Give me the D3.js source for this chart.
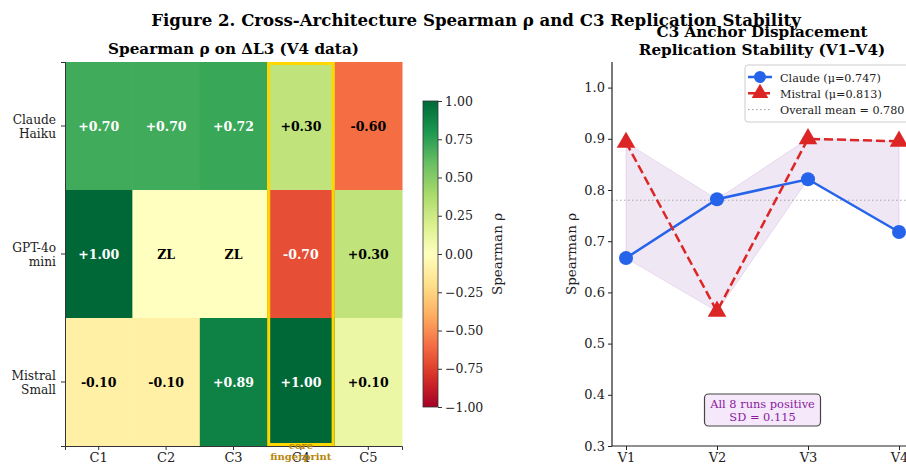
<!DOCTYPE html>
<html>
<head>
<meta charset="utf-8">
<script src="https://cdn.jsdelivr.net/npm/d3@7"></script>
<style>
  body { margin: 0; background: #fff; }
  svg { font-family: "DejaVu Serif", serif; }
</style>
</head>
<body>
<svg id="fig" width="906" height="465"></svg>
<script>
// heatmap data
const conditions = ["C1", "C2", "C3", "C4", "C5"];
const models = [["Claude", "Haiku"], ["GPT-4o", "mini"], ["Mistral", "Small"]];
const rhoClaude = [0.70, 0.70, 0.72, 0.30, -0.60];
const rhoGpt = [1.00, null, null, -0.70, 0.30];   // null = ZL (zero-length)
const rhoMistral = [-0.10, -0.10, 0.89, 1.00, 0.10];
const cbarTicks = [1.00, 0.75, 0.50, 0.25, 0.00, -0.25, -0.50, -0.75, -1.00];

// replication data
const versions = ["V1", "V2", "V3", "V4"];
const claudeRuns = [0.667, 0.782, 0.821, 0.718];
const mistralRuns = [0.893, 0.563, 0.900, 0.895];
const overallMean = 0.780;
const yTicks = [0.3, 0.4, 0.5, 0.6, 0.7, 0.8, 0.9, 1.0];

const svg = d3.select("#fig");
// RdYlGn as matplotlib builds it (linear between the 11 anchor colours)
const rdylgn = ["#a50026", "#d73027", "#f46d43", "#fdae61", "#fee08b", "#ffffbf",
  "#d9ef8b", "#a6d96a", "#66bd63", "#1a9850", "#006837"];
const color = d3.scaleLinear().domain(d3.range(11).map(i => -1 + i * 0.2)).range(rdylgn)
  .interpolate(d3.interpolateRgb).clamp(true);
const fmt = v => (v > 0 ? "+" : "") + v.toFixed(2);

// titles
svg.append("text").attr("x", 476).attr("y", 26).attr("text-anchor", "middle")
  .style("font-size", "16.6px").style("font-weight", "bold")
  .text("Figure 2. Cross-Architecture Spearman ρ and C3 Replication Stability");

// ---------- left: heatmap ----------
const hm = { left: 65, top: 62, right: 402, bottom: 446 };
const x = d3.scaleBand().domain(conditions).range([hm.left, hm.right]);
const y = d3.scaleBand().domain(d3.range(models.length)).range([hm.top, hm.bottom]);

svg.append("text").attr("x", (hm.left + hm.right) / 2).attr("y", 54).attr("text-anchor", "middle")
  .style("font-size", "15.2px").style("font-weight", "bold")
  .text("Spearman ρ on ΔL3 (V4 data)");

const rows = [rhoClaude, rhoGpt, rhoMistral];
const cells = [];
rows.forEach((r, i) => r.forEach((v, j) => cells.push({ row: i, col: conditions[j], v })));

svg.append("g").selectAll("rect").data(cells).enter().append("rect")
  .attr("x", d => x(d.col)).attr("y", d => y(d.row))
  .attr("width", x.bandwidth() + 0.5).attr("height", y.bandwidth() + 0.5)
  .attr("fill", d => color(d.v === null ? 0 : d.v));

svg.append("g").selectAll("text").data(cells).enter().append("text")
  .attr("x", d => x(d.col) + x.bandwidth() / 2)
  .attr("y", d => y(d.row) + y.bandwidth() / 2 + 4.5)
  .attr("text-anchor", "middle")
  .style("font-size", "12.5px").style("font-weight", "bold")
  .attr("fill", d => d.v !== null && Math.abs(d.v) > 0.65 ? "#fff" : "#000")
  .text(d => d.v === null ? "ZL" : fmt(d.v));

// highlight core fingerprint column
svg.append("rect")
  .attr("x", x("C4") + 1.5).attr("y", hm.top + 1.5)
  .attr("width", x.bandwidth() - 3).attr("height", hm.bottom - hm.top - 3)
  .attr("fill", "none").attr("stroke", "#FFD700").attr("stroke-width", 3);

// axes
const xAxis = svg.append("g").attr("transform", `translate(0,${hm.bottom})`)
  .call(d3.axisBottom(x).tickSize(4).tickPadding(3));
const yAxis = svg.append("g").attr("transform", `translate(${hm.left},0)`)
  .call(d3.axisLeft(y).tickSize(4).tickFormat(""));
[xAxis, yAxis].forEach(a => {
  a.select(".domain").attr("stroke", "#333").attr("stroke-width", 1);
  a.selectAll(".tick line").attr("stroke", "#333");
  a.selectAll("text").style("font-family", "DejaVu Serif").style("font-size", "13px").attr("fill", "#222");
});
models.forEach((m, i) => {
  const t = svg.append("text").attr("text-anchor", "end")
    .attr("x", 56).attr("y", y(i) + y.bandwidth() / 2 - 2)
    .style("font-size", "12.2px").attr("fill", "#222");
  t.append("tspan").attr("x", 56).attr("dy", 0).text(m[0]);
  t.append("tspan").attr("x", 56).attr("dy", 13.5).text(m[1]);
});

svg.append("text").attr("x", x("C4") + x.bandwidth() / 2).attr("y", 449)
  .attr("text-anchor", "middle").style("font-size", "10px").style("font-weight", "bold")
  .attr("fill", "#B8860B").text("core");
svg.append("text").attr("x", x("C4") + x.bandwidth() / 2).attr("y", 460)
  .attr("text-anchor", "middle").style("font-size", "10px").style("font-weight", "bold")
  .attr("fill", "#B8860B").text("fingerprint");

// colorbar
const cb = { x: 423, w: 15, top: 101, bottom: 407 };
const cbScale = d3.scaleLinear().domain([-1, 1]).range([cb.bottom, cb.top]);
const defs = svg.append("defs");
const grad = defs.append("linearGradient").attr("id", "cbgrad")
  .attr("x1", 0).attr("y1", 1).attr("x2", 0).attr("y2", 0);
d3.range(0, 1.0001, 0.05).forEach(t => {
  grad.append("stop").attr("offset", t).attr("stop-color", color(-1 + 2 * t));
});
svg.append("rect").attr("x", cb.x).attr("y", cb.top).attr("width", cb.w)
  .attr("height", cb.bottom - cb.top).attr("fill", "url(#cbgrad)")
  .attr("stroke", "#333").attr("stroke-width", 0.8);
const cbAxis = svg.append("g").attr("transform", `translate(${cb.x + cb.w},0)`)
  .call(d3.axisRight(cbScale).tickValues(cbarTicks).tickSize(4).tickPadding(3)
    .tickFormat(v => d3.format(".2f")(v).replace("-", "−")));
cbAxis.select(".domain").remove();
cbAxis.selectAll(".tick line").attr("stroke", "#333");
cbAxis.selectAll("text").style("font-family", "DejaVu Serif").style("font-size", "12.5px").attr("fill", "#222");
svg.append("text").attr("transform", `translate(502,${(cb.top + cb.bottom) / 2}) rotate(-90)`)
  .attr("text-anchor", "middle").style("font-size", "13.5px").attr("fill", "#222").text("Spearman ρ");

// ---------- right: replication stability ----------
const rp = { left: 612, right: 912, top: 62, bottom: 446 };
const vx = d3.scalePoint().domain(versions).range([626, 899]);
const vy = d3.scaleLinear().domain([0.3, 1.05]).range([rp.bottom, rp.top]);

const rt = svg.append("text").attr("text-anchor", "middle")
  .style("font-size", "15.2px").style("font-weight", "bold");
rt.append("tspan").attr("x", 762).attr("y", 37).text("C3 Anchor Displacement");
rt.append("tspan").attr("x", 762).attr("y", 55).text("Replication Stability (V1–V4)");

// band between the two runs
const band = versions.map((v, i) => ({ v, lo: Math.min(claudeRuns[i], mistralRuns[i]), hi: Math.max(claudeRuns[i], mistralRuns[i]) }));
svg.append("path").datum(band)
  .attr("d", d3.area().x(d => vx(d.v)).y0(d => vy(d.lo)).y1(d => vy(d.hi)))
  .attr("fill", "#8e44ad").attr("fill-opacity", 0.13)
  .attr("stroke", "#8e44ad").attr("stroke-opacity", 0.15);

svg.append("line").attr("x1", rp.left).attr("x2", rp.right)
  .attr("y1", vy(overallMean)).attr("y2", vy(overallMean))
  .attr("stroke", "#999").attr("stroke-width", 1).attr("stroke-dasharray", "1.5,2.5").attr("opacity", 0.8);

const line = d3.line().x((d, i) => vx(versions[i])).y(d => vy(d));
svg.append("path").datum(claudeRuns).attr("d", line)
  .attr("fill", "none").attr("stroke", "#2563eb").attr("stroke-width", 2.5);
svg.append("path").datum(mistralRuns).attr("d", line)
  .attr("fill", "none").attr("stroke", "#dc2626").attr("stroke-width", 2.5).attr("stroke-dasharray", "9,4");

svg.append("g").selectAll("circle").data(claudeRuns).enter().append("circle")
  .attr("cx", (d, i) => vx(versions[i])).attr("cy", d => vy(d)).attr("r", 7)
  .attr("fill", "#2563eb");
const tri = d3.symbol().type(d3.symbolTriangle).size(150);
svg.append("g").selectAll("path").data(mistralRuns).enter().append("path")
  .attr("d", tri).attr("transform", (d, i) => `translate(${vx(versions[i])},${vy(d)})`)
  .attr("fill", "#dc2626");

const vxAxis = svg.append("g").attr("transform", `translate(0,${rp.bottom})`)
  .call(d3.axisBottom(vx).tickSize(4).tickPadding(3));
vxAxis.select(".domain").attr("d", `M${rp.left},0H${rp.right}`);
const vyAxis = svg.append("g").attr("transform", `translate(${rp.left},0)`)
  .call(d3.axisLeft(vy).tickValues(yTicks).tickFormat(d3.format(".1f")).tickSize(4).tickPadding(3));
vyAxis.select(".domain").attr("d", `M0,${rp.bottom}V${rp.top}`);
[vxAxis, vyAxis].forEach(a => {
  a.select(".domain").attr("stroke", "#222").attr("stroke-width", 1.2);
  a.selectAll(".tick line").attr("stroke", "#222");
  a.selectAll("text").style("font-family", "DejaVu Serif").style("font-size", "13px").attr("fill", "#222");
});
svg.append("text").attr("transform", `translate(576,${(rp.top + rp.bottom) / 2}) rotate(-90)`)
  .attr("text-anchor", "middle").style("font-size", "13.5px").attr("fill", "#222").text("Spearman ρ");

// legend
const lg = svg.append("g").attr("transform", "translate(745,65)");
lg.append("rect").attr("width", 175).attr("height", 57).attr("rx", 3)
  .attr("fill", "#fff").attr("fill-opacity", 0.85).attr("stroke", "#ccc");
const legendItems = [
  { label: `Claude (μ=${d3.mean(claudeRuns).toFixed(3)})`, c: "#2563eb", kind: "circle" },
  { label: `Mistral (μ=${d3.mean(mistralRuns).toFixed(3)})`, c: "#dc2626", kind: "tri" },
  { label: `Overall mean = ${overallMean.toFixed(3)}`, c: "#999", kind: "dot" }
];
legendItems.forEach((it, i) => {
  const g = lg.append("g").attr("transform", `translate(0,${12 + i * 16.3})`);
  if (it.kind === "dot") {
    g.append("line").attr("x1", 3).attr("x2", 27).attr("stroke", it.c).attr("stroke-dasharray", "1.5,2.5");
  } else {
    g.append("line").attr("x1", 3).attr("x2", 27).attr("stroke", it.c).attr("stroke-width", 2.5)
      .attr("stroke-dasharray", it.kind === "tri" ? "9,4" : null);
    if (it.kind === "circle") g.append("circle").attr("cx", 15).attr("r", 6).attr("fill", it.c);
    else g.append("path").attr("d", d3.symbol().type(d3.symbolTriangle).size(120)).attr("transform", "translate(15,0)").attr("fill", it.c);
  }
  g.append("text").attr("x", 35).attr("y", 4.5).style("font-size", "11.2px").attr("fill", "#222").text(it.label);
});

// annotation box
const ann = svg.append("g").attr("transform", `translate(${(vx("V2") + vx("V3")) / 2},0)`);
ann.append("rect").attr("x", -58).attr("y", 394).attr("width", 116).attr("height", 32).attr("rx", 4)
  .attr("fill", "#f5e8fb").attr("stroke", "#444").attr("stroke-width", 1.2);
ann.append("text").attr("y", 407.5).attr("text-anchor", "middle").style("font-size", "11.4px")
  .attr("fill", "#8b1a9b").text("All 8 runs positive");
ann.append("text").attr("y", 421).attr("text-anchor", "middle").style("font-size", "11.4px")
  .attr("fill", "#8b1a9b").text("SD = 0.115");
</script>
</body>
</html>
